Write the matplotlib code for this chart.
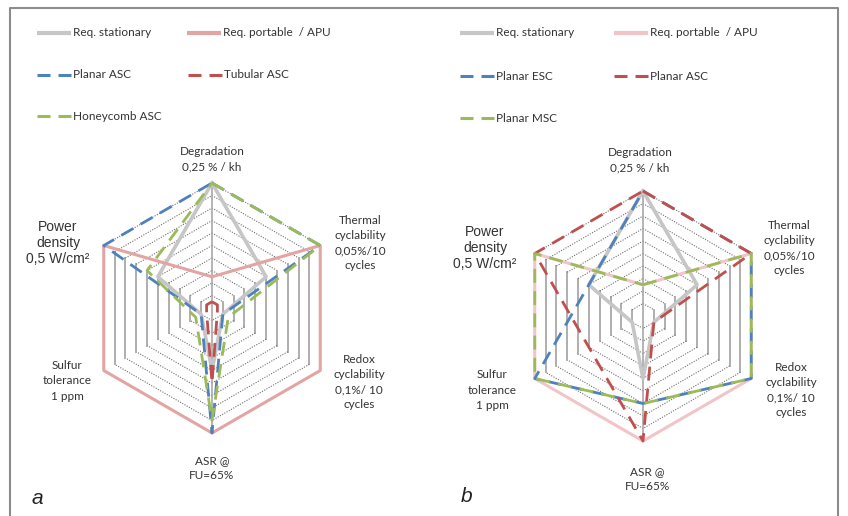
import numpy as np
import matplotlib.pyplot as plt

# spokes, clockwise from the top
spokes = ['Degradation', 'Thermal cyclability', 'Redox cyclability', 'ASR', 'Sulfur tolerance', 'Power density']
spoke_text = ['Degradation\n0,25 % / kh',
              'Thermal\ncyclability\n0,05%/10\ncycles',
              'Redox\ncyclability\n0,1%/ 10\ncycles',
              'ASR @\nFU=65%',
              'Sulfur\ntolerance\n1 ppm',
              'Power\ndensity\n0,5 W/cm²']

req_stationary = [10, 5, 1, 5, 1, 5]
req_portable = [2.5, 10, 10, 10, 10, 10]

# panel a: anode supported cells
planar_asc_a = [10, 10, 1, 10, 1, 10]
tubular_asc = [0.5, 0.5, 0.5, 6, 0.5, 0.5]
honeycomb_asc = [10, 10, 1.5, 9, 1.5, 6]

# panel b: planar designs
planar_esc = [10, 10, 10, 7, 10, 5]
planar_asc_b = [10, 10, 1, 10, 5, 10]
planar_msc = [2.5, 10, 10, 7, 10, 10]

GRAY = '#c6c6c6'
PINK_A = '#e3a4a4'
PINK_B = '#f2c4c8'
BLUE = '#4f81bd'
RED = '#c0504d'
GREEN = '#9bbb59'

theta = np.arange(6) * np.pi / 3


def xy(vals):
    r = np.append(vals, vals[0])
    t = np.append(theta, theta[0])
    return r * np.sin(t), r * np.cos(t)


W, H = 848, 516
fig = plt.figure(figsize=(W / 100, H / 100), dpi=100)

bg = fig.add_axes([0, 0, 1, 1])
bg.set_xlim(0, W)
bg.set_ylim(H, 0)
bg.axis('off')

# frame
bg.plot([10, 10, 838, 838], [516, 8, 8, 516], color='#8c8c8c', lw=1.5)


def radar(cx, cy, series, pink):
    R = 125
    half = 170
    ax = fig.add_axes([(cx - half) / W, (H - cy - half) / H, 2 * half / W, 2 * half / H])
    lim = half / R * 10
    ax.set_xlim(-lim, lim)
    ax.set_ylim(-lim, lim)
    ax.axis('off')
    # hexagonal grid
    for k in range(1, 11):
        gx, gy = xy([k] * 6)
        for i in range(6):
            seg_x, seg_y = gx[i:i + 2], gy[i:i + 2]
            if i in (1, 4):
                ax.plot(seg_x, seg_y, color='#a8a8a8', lw=1.3, zorder=1)
            else:
                ax.plot(seg_x, seg_y, color='#6e6e6e', lw=0.8, ls=(0, (1, 1.3)), zorder=1)
    ax.plot([0, 0], [-10, 10], color='#a8a8a8', lw=1.2, zorder=1)
    ax.plot(xy(req_stationary)[0], xy(req_stationary)[1], color=GRAY, lw=2.6, zorder=2)
    ax.plot(xy(req_portable)[0], xy(req_portable)[1], color=pink, lw=2.2, zorder=2)
    for vals, col in series:
        sx, sy = xy(vals)
        ax.plot(sx, sy, color=col, lw=2.0, ls=(0, (5, 3)), zorder=3)


radar(212, 308, [(planar_asc_a, BLUE), (tubular_asc, RED), (honeycomb_asc, GREEN)], PINK_A)
radar(643, 316, [(planar_esc, BLUE), (planar_asc_b, RED), (planar_msc, GREEN)], PINK_B)

lfont = dict(family='Lato', fontsize=8.5, color='#333333', va='center', ha='left')


def legend(x0, entries):
    for (name, col, dashed, dx, row_y) in entries:
        if dashed:
            bg.plot([x0 + dx, x0 + dx + 13], [row_y, row_y], color=col, lw=2.2, solid_capstyle='butt')
            bg.plot([x0 + dx + 21, x0 + dx + 34], [row_y, row_y], color=col, lw=2.2, solid_capstyle='butt')
        else:
            bg.plot([x0 + dx, x0 + dx + 34], [row_y, row_y], color=col, lw=3, solid_capstyle='butt')
        bg.text(x0 + dx + 36, row_y, name, **lfont)


legend(37, [('Req. stationary', GRAY, False, 0, 33),
            ('Req. portable  / APU', PINK_A, False, 150, 33),
            ('Planar ASC', BLUE, True, 0, 75),
            ('Tubular ASC', RED, True, 151, 75),
            ('Honeycomb ASC', GREEN, True, 0, 116)])
legend(460, [('Req. stationary', GRAY, False, 0, 33),
             ('Req. portable  / APU', PINK_B, False, 154, 33),
             ('Planar ESC', BLUE, True, 0, 76),
             ('Planar ASC', RED, True, 154, 76),
             ('Planar MSC', GREEN, True, 0, 118)])

tfont = dict(family='Lato', fontsize=8.5, color='#333333', ha='center', va='center', linespacing=1.45)
pfont = dict(family='Liberation Sans', fontsize=10, color='#333333', ha='center', va='center', linespacing=1.2)

label_pos = {
    'a': [(212, 159), (360, 243), (359, 382), (212, 468), (67, 381), (58, 243)],
    'b': [(640, 160), (789, 248), (791, 390), (647, 479), (492, 390), (485, 248)],
}
for panel in ('a', 'b'):
    for txt, (px, py) in zip(spoke_text, label_pos[panel]):
        style = pfont if txt.startswith('Power') else tfont
        bg.text(px, py, txt, **style)

bg.text(37, 498, 'a', family='Liberation Sans', style='italic', fontsize=15, color='#222222', ha='center', va='center')
bg.text(467, 497, 'b', family='Liberation Sans', style='italic', fontsize=15, color='#222222', ha='center', va='center')

fig.savefig('out.png', dpi=100)
